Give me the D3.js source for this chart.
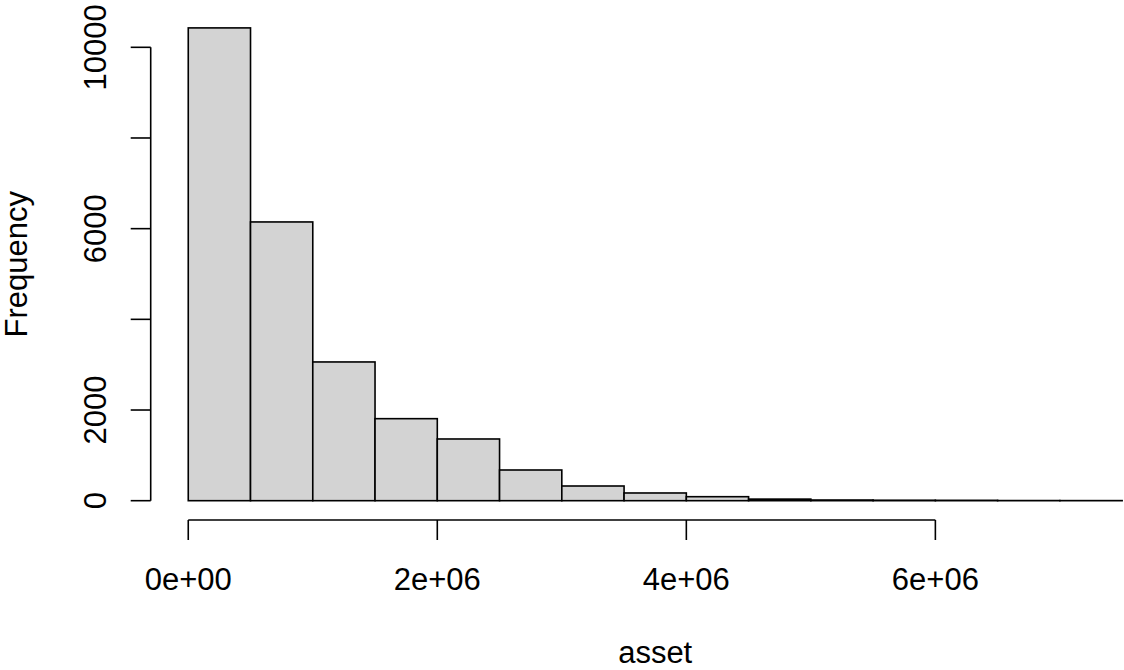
<!DOCTYPE html>
<html>
<head>
<meta charset="utf-8">
<script src="https://cdn.jsdelivr.net/npm/d3@7"></script>
<style>
  html, body { margin: 0; padding: 0; background: #fff; }
  svg { display: block; }
  text { font-family: "Liberation Sans", Arial, sans-serif; fill: #000; }
</style>
</head>
<body>
<svg id="chart" width="1124" height="670"></svg>
<script>
// Histogram of asset values: bin edges (0 to 7.5e6, width 0.5e6) and counts
const binStarts = [0, 5e5, 1e6, 1.5e6, 2e6, 2.5e6, 3e6, 3.5e6, 4e6, 4.5e6, 5e6, 5.5e6, 6e6, 6.5e6, 7e6];
const binWidth = 5e5;
const counts = [10428, 6148, 3060, 1809, 1361, 677, 324, 170, 88, 35, 15, 10, 8, 3, 2];
const xTicks = [0, 2e6, 4e6, 6e6];
const xTickLabels = ["0e+00", "2e+06", "4e+06", "6e+06"];
const yTicks = [0, 2000, 4000, 6000, 8000, 10000];
const yTickLabels = ["0", "2000", "", "6000", "", "10000"];
const xTitle = "asset";
const yTitle = "Frequency";

const svg = d3.select("#chart");
const fontSize = 31;

// Plot region spans the padded data ranges (4% either side)
const x = d3.scaleLinear().domain([-3e5, 7.8e6]).range([150.9, 1159.5]);
const y = d3.scaleLinear().domain([-417.1, 10844.9]).range([519.6, 9]);

const bins = binStarts.map((s, i) => ({ x0: s, x1: s + binWidth, n: counts[i] }));

svg.append("g")
  .selectAll("rect")
  .data(bins)
  .join("rect")
  .attr("x", d => x(d.x0))
  .attr("y", d => y(d.n))
  .attr("width", d => x(d.x1) - x(d.x0))
  .attr("height", d => y(0) - y(d.n))
  .attr("fill", "#d3d3d3")
  .attr("stroke", "#000")
  .attr("stroke-width", 1.6);

// x axis
const xAxisY = 520;
const gx = svg.append("g").attr("transform", `translate(0,${xAxisY})`);
gx.append("line")
  .attr("x1", x(xTicks[0])).attr("x2", x(xTicks[xTicks.length - 1]))
  .attr("y1", 0).attr("y2", 0)
  .attr("stroke", "#000").attr("stroke-width", 1.6);
gx.selectAll("line.tick")
  .data(xTicks)
  .join("line")
  .attr("class", "tick")
  .attr("x1", d => x(d)).attr("x2", d => x(d))
  .attr("y1", 0).attr("y2", 20)
  .attr("stroke", "#000").attr("stroke-width", 1.6);
gx.selectAll("text")
  .data(xTicks)
  .join("text")
  .attr("x", d => x(d))
  .attr("y", 70)
  .attr("text-anchor", "middle")
  .attr("font-size", fontSize)
  .text((d, i) => xTickLabels[i]);

// y axis
const yAxisX = 150.7;
const gy = svg.append("g").attr("transform", `translate(${yAxisX},0)`);
gy.append("line")
  .attr("x1", 0).attr("x2", 0)
  .attr("y1", y(yTicks[0])).attr("y2", y(yTicks[yTicks.length - 1]))
  .attr("stroke", "#000").attr("stroke-width", 1.6);
gy.selectAll("line.tick")
  .data(yTicks)
  .join("line")
  .attr("class", "tick")
  .attr("x1", 0).attr("x2", -20)
  .attr("y1", d => y(d)).attr("y2", d => y(d))
  .attr("stroke", "#000").attr("stroke-width", 1.6);
gy.selectAll("text")
  .data(yTicks)
  .join("text")
  .attr("transform", d => `translate(-45,${y(d)}) rotate(-90)`)
  .attr("text-anchor", "middle")
  .attr("font-size", fontSize)
  .text((d, i) => yTickLabels[i]);

// axis titles, centred on the plot region
svg.append("text")
  .attr("x", (x.range()[0] + x.range()[1]) / 2)
  .attr("y", 663)
  .attr("text-anchor", "middle")
  .attr("font-size", fontSize)
  .text(xTitle);

svg.append("text")
  .attr("transform", `translate(27,${(y.range()[0] + y.range()[1]) / 2}) rotate(-90)`)
  .attr("text-anchor", "middle")
  .attr("font-size", fontSize)
  .text(yTitle);
</script>
</body>
</html>
